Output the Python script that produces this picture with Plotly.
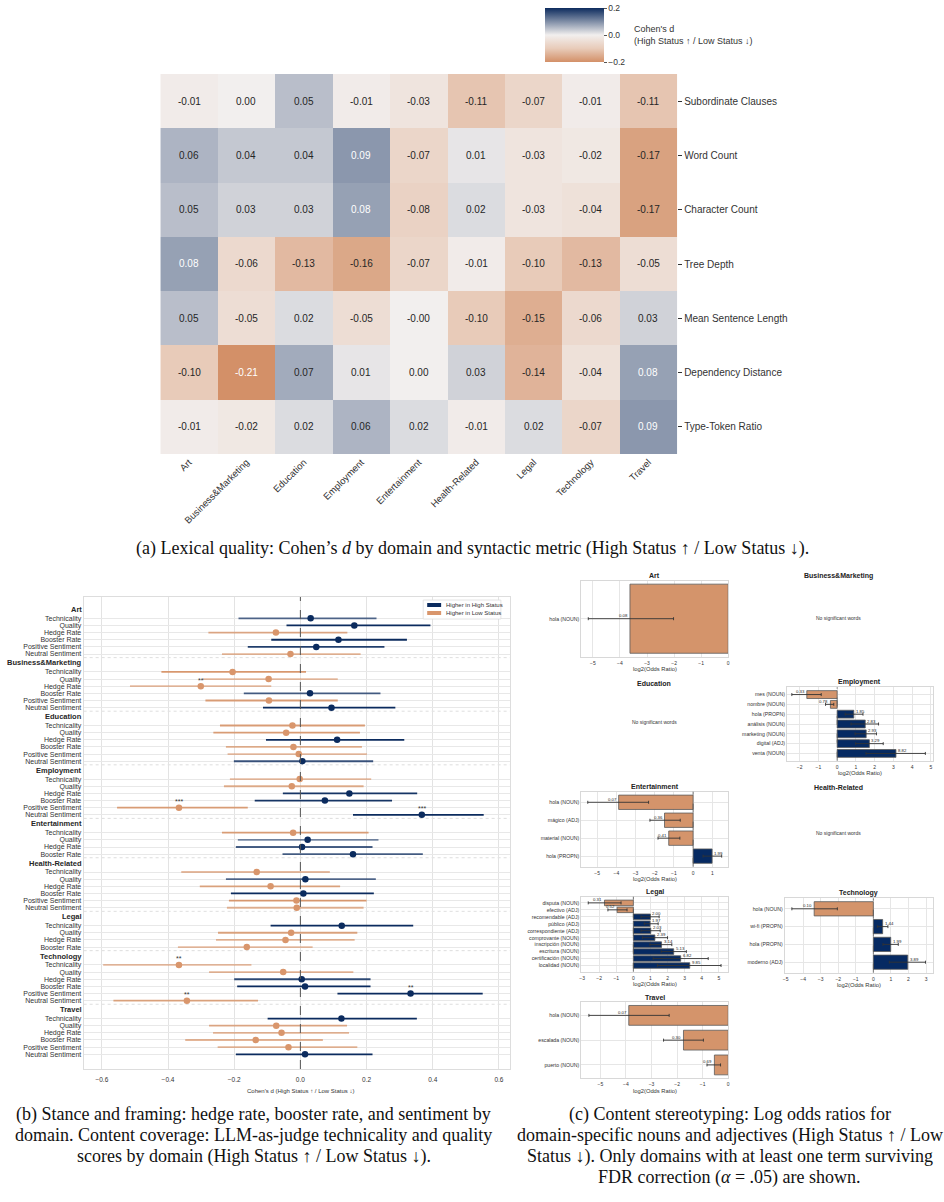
import plotly.graph_objects as go

W, H = 944, 1202
def fx(p): return p / W
def fy(p): return 1 - p / H

NAVY = "#0b2b5e"
ORANGE = "#d58e60"
BAR_ORANGE = "#d4946b"
BAR_NAVY = "#062a62"
FONT = "Liberation Sans, Arial, sans-serif"
SERIF = "Liberation Serif, Times New Roman, serif"

# ---------------- (a) heatmap data ----------------
hm_domains = ["Art", "Business&Marketing", "Education", "Employment", "Entertainment",
              "Health-Related", "Legal", "Technology", "Travel"]
hm_metrics = ["Subordinate Clauses", "Word Count", "Character Count", "Tree Depth",
              "Mean Sentence Length", "Dependency Distance", "Type-Token Ratio"]
hm_subordinate = [-0.01, 0.00, 0.05, -0.01, -0.03, -0.11, -0.07, -0.01, -0.11]
hm_wordcount = [0.06, 0.04, 0.04, 0.09, -0.07, 0.01, -0.03, -0.02, -0.17]
hm_charcount = [0.05, 0.03, 0.03, 0.08, -0.08, 0.02, -0.03, -0.04, -0.17]
hm_treedepth = [0.08, -0.06, -0.13, -0.16, -0.07, -0.01, -0.10, -0.13, -0.05]
hm_meansent = [0.05, -0.05, 0.02, -0.05, -0.00, -0.10, -0.15, -0.06, 0.03]
hm_depdist = [-0.10, -0.21, 0.07, 0.01, 0.00, 0.03, -0.14, -0.04, 0.08]
hm_ttr = [-0.01, -0.02, 0.02, 0.06, 0.02, -0.01, 0.02, -0.07, 0.09]
hm_values = [hm_subordinate, hm_wordcount, hm_charcount, hm_treedepth,
             hm_meansent, hm_depdist, hm_ttr]

# ---------------- (b) forest data ----------------
fp_domains = ["Art", "Business&Marketing", "Education", "Employment", "Entertainment",
              "Health-Related", "Legal", "Technology", "Travel"]
six = ["Technicality", "Quality", "Hedge Rate", "Booster Rate",
       "Positive Sentiment", "Neutral Sentiment"]
four = six[:4]
fp_metric_lists = [six, six, six, six, four, six, four, six, six]
fp_mean = [
    0.031, 0.163, -0.074, 0.115, 0.048, -0.030,
    -0.205, -0.096, -0.301, 0.029, -0.095, 0.094,
    -0.024, -0.043, 0.111, -0.021, -0.005, 0.006,
    -0.002, -0.026, 0.148, 0.074, -0.367, 0.367,
    -0.022, 0.022, 0.005, 0.159,
    -0.132, 0.015, -0.090, 0.009, -0.012, -0.011,
    0.125, -0.028, -0.045, -0.162,
    -0.367, -0.052, 0.004, 0.014, 0.333, -0.343,
    0.124, -0.073, -0.057, -0.135, -0.036, 0.014,
]
fp_lo = [
    -0.187, -0.042, -0.278, -0.088, -0.159, -0.237,
    -0.420, -0.295, -0.515, -0.171, -0.287, -0.113,
    -0.243, -0.263, -0.104, -0.225, -0.220, -0.201,
    -0.213, -0.231, -0.053, -0.138, -0.554, 0.159,
    -0.237, -0.189, -0.195, -0.054,
    -0.360, -0.225, -0.304, -0.210, -0.216, -0.222,
    -0.090, -0.249, -0.255, -0.370,
    -0.596, -0.276, -0.200, -0.191, 0.112, -0.565,
    -0.099, -0.276, -0.264, -0.348, -0.250, -0.195,
]
fp_hi = [
    0.230, 0.393, 0.142, 0.322, 0.254, 0.182,
    0.017, 0.113, -0.088, 0.242, 0.113, 0.287,
    0.195, 0.180, 0.314, 0.186, 0.201, 0.220,
    0.214, 0.191, 0.353, 0.277, -0.159, 0.554,
    0.206, 0.236, 0.218, 0.370,
    0.089, 0.228, 0.120, 0.222, 0.200, 0.191,
    0.341, 0.172, 0.164, 0.037,
    -0.148, 0.160, 0.212, 0.212, 0.551, -0.128,
    0.352, 0.141, 0.147, 0.068, 0.172, 0.218,
]
fp_sig = [""] * 50
fp_sig[8] = "**"
fp_sig[22] = "***"
fp_sig[23] = "***"
fp_sig[38] = "**"
fp_sig[42] = "**"
fp_sig[43] = "**"
# line opacity per row (style)
fp_alpha = [
    0.7, 1.0, 0.75, 1.0, 0.9, 0.65,
    0.9, 0.6, 0.6, 0.75, 0.85, 1.0,
    0.85, 0.85, 1.0, 0.7, 0.6, 0.8,
    0.6, 0.7, 0.95, 0.95, 0.85, 1.0,
    0.85, 0.55, 0.75, 0.75,
    0.6, 0.7, 0.8, 1.0, 0.9, 0.65,
    1.0, 0.8, 0.65, 0.6,
    0.6, 0.65, 0.85, 1.0, 1.0, 0.8,
    1.0, 0.75, 0.65, 0.65, 0.65, 1.0,
]

# ---------------- (c) log-odds data ----------------
art_terms = ["hola (NOUN)"]
art_vals = [-3.63]
art_lo = [-5.17]
art_hi = [-2.02]

emp_terms = ["mes (NOUN)", "nombre (NOUN)", "hola (PROPN)", "análisis (NOUN)",
             "marketing (NOUN)", "digital (ADJ)", "venta (NOUN)"]
emp_vals = [-1.62, -0.36, 0.89, 1.50, 1.55, 1.72, 3.14]
emp_lo = [-2.42, -0.62, 0.43, 0.74, 0.96, 0.99, 1.54]
emp_hi = [-0.85, -0.18, 1.38, 2.21, 2.10, 2.46, 4.71]

ent_terms = ["hola (NOUN)", "mágico (ADJ)", "material (NOUN)", "hola (PROPN)"]
ent_vals = [-3.88, -1.49, -1.27, 0.99]
ent_lo = [-5.49, -2.25, -1.83, 0.52]
ent_hi = [-2.32, -0.67, -0.69, 1.49]

leg_terms = ["disputa (NOUN)", "efectivo (ADJ)", "recomendable (ADJ)", "público (ADJ)",
             "correspondiente (ADJ)", "comprovante (NOUN)", "inscripción (NOUN)",
             "escritura (NOUN)", "certificación (NOUN)", "localidad (NOUN)"]
leg_vals = [-1.69, -0.95, 1.00, 0.98, 1.02, 1.26, 1.65, 2.36, 2.77, 3.30]
leg_lo = [-2.64, -1.49, 0.45, 0.64, 0.45, 0.54, 0.97, 1.63, 1.16, 1.41]
leg_hi = [-0.72, -0.37, 1.51, 1.45, 1.57, 2.00, 2.25, 3.10, 4.38, 5.13]

tec_terms = ["hola (NOUN)", "wi-fi (PROPN)", "hola (PROPN)", "moderno (ADJ)"]
tec_vals = [-3.37, 0.53, 0.99, 1.96]
tec_lo = [-4.64, 0.23, 0.55, 0.91]
tec_hi = [-2.05, 0.83, 1.42, 2.97]

trv_terms = ["hola (NOUN)", "escalada (NOUN)", "puerto (NOUN)"]
trv_vals = [-3.89, -1.75, -0.54]
trv_lo = [-5.45, -2.53, -0.83]
trv_hi = [-2.31, -0.97, -0.30]

fig = go.Figure()
annotations = []
shapes = []
layout_axes = {}

def ann(**kw):
    kw.setdefault("showarrow", False)
    kw.setdefault("xanchor", "center")
    kw.setdefault("yanchor", "middle")
    annotations.append(kw)

# ================= (a) heatmap =================
fig.add_trace(go.Heatmap(
    z=hm_values, x=list(range(len(hm_domains))), y=list(range(len(hm_metrics))),
    zmin=-0.2, zmax=0.2,
    colorscale=[[0.0, "#d39068"], [0.25, "#e8cbb9"], [0.5, "#f2efee"], [1.0, "#0d2c5e"]],
    xaxis="x", yaxis="y", hoverinfo="skip",
    colorbar=dict(thickness=59, thicknessmode="pixels", len=54, lenmode="pixels",
                  x=fx(545), xanchor="left", y=fy(8), yanchor="top", xpad=0, ypad=0,
                  tickvals=[-0.2, 0.0, 0.2], ticktext=["\u22120.2", "0.0", "0.2"],
                  ticks="outside", ticklen=3, tickcolor="#555",
                  tickfont=dict(size=8.5, color="#333", family=FONT),
                  outlinewidth=0),
))
for r, row in enumerate(hm_values):
    for c, v in enumerate(row):
        col = "white" if (v >= 0.075 or v <= -0.19) else "#262626"
        ann(x=c, y=r, xref="x", yref="y", text=f"{v:.2f}",
            font=dict(size=10, color=col, family=FONT))
ann(x=fx(633), y=fy(35), xref="paper", yref="paper", xanchor="left", align="left",
    text="Cohen's d<br>(High Status \u2191 / Low Status \u2193)",
    font=dict(size=9, color="#333", family=FONT))
layout_axes["xaxis"] = dict(domain=[fx(159), fx(678)], anchor="y", range=[-0.5, 8.5],
                            tickvals=list(range(9)), ticktext=hm_domains, tickangle=-45,
                            showgrid=False, zeroline=False, ticks="", showline=False,
                            tickfont=dict(size=9.5, color="#333"))
layout_axes["yaxis"] = dict(domain=[fy(454), fy(74)], anchor="x", range=[6.5, -0.5],
                            side="right", tickvals=list(range(7)), ticktext=hm_metrics,
                            ticks="outside", ticklen=4, tickcolor="#333", showgrid=False,
                            zeroline=False, showline=False,
                            tickfont=dict(size=10, color="#333"))

# ================= (b) forest =================
positions, headers, seps = [], [], []
pos = 0.0
for gi, (dom, mets) in enumerate(zip(fp_domains, fp_metric_lists)):
    headers.append((dom, pos - 1.25))
    for k in range(len(mets)):
        positions.append(pos + k)
    last = pos + len(mets) - 1
    if gi < len(fp_domains) - 1:
        seps.append(last + 0.5)
    pos = last + 2.5
fp_labels = [m for mets in fp_metric_lists for m in mets]

def rgba(hexc, a):
    h = hexc.lstrip("#")
    r, g, b = int(h[0:2], 16), int(h[2:4], 16), int(h[4:6], 16)
    return f"rgba({r},{g},{b},{a})"

for i in range(len(fp_mean)):
    base = NAVY if fp_mean[i] > 0 else ORANGE
    fig.add_trace(go.Scatter(x=[fp_lo[i], fp_hi[i]], y=[positions[i], positions[i]],
                             mode="lines", line=dict(color=rgba(base, fp_alpha[i]), width=1.8),
                             xaxis="x2", yaxis="y2", hoverinfo="skip", showlegend=False))
for sel, colr in [(True, NAVY), (False, "#d9966c")]:
    xs = [fp_mean[i] for i in range(len(fp_mean)) if (fp_mean[i] > 0) == sel]
    ys = [positions[i] for i in range(len(fp_mean)) if (fp_mean[i] > 0) == sel]
    fig.add_trace(go.Scatter(x=xs, y=ys, mode="markers",
                             marker=dict(color=colr, size=6.5, line=dict(width=0)),
                             xaxis="x2", yaxis="y2", hoverinfo="skip", showlegend=False))
for i, s in enumerate(fp_sig):
    if s:
        ann(x=fp_mean[i], y=positions[i], xref="x2", yref="y2", text=s,
            yshift=6, font=dict(size=7, color="#333"))
for dom, hp in headers:
    ann(x=fx(82), y=hp, xref="paper", yref="y2", text=f"<b>{dom}</b>",
        xanchor="right", font=dict(size=7.5, color="#262626"))
for sp in seps:
    shapes.append(dict(type="line", xref="x2 domain", yref="y2", x0=0, x1=1, y0=sp, y1=sp,
                       line=dict(color="#d5d5d5", width=0.8, dash="dot"), layer="below"))
shapes.append(dict(type="line", xref="x2", yref="y2 domain", x0=0, x1=0, y0=0, y1=1,
                   line=dict(color="#555", width=1, dash="dash")))
layout_axes["xaxis2"] = dict(domain=[fx(82), fx(510)], anchor="y2", range=[-0.655, 0.633],
                             tickvals=[-0.6, -0.4, -0.2, 0.0, 0.2, 0.4, 0.6],
                             ticktext=["\u22120.6", "\u22120.4", "\u22120.2", "0.0", "0.2", "0.4", "0.6"],
                             showgrid=True, gridcolor="#e3e3e3", gridwidth=1, zeroline=False,
                             showline=True, mirror=True, linecolor="#dddddd", linewidth=1,
                             ticks="", ticklabelstandoff=4, tickfont=dict(size=6.5, color="#333"))
layout_axes["yaxis2"] = dict(domain=[fy(1069), fy(597)], anchor="x2", range=[63.06, -2.98],
                             tickvals=positions, ticktext=fp_labels, showgrid=True,
                             gridcolor="#e8e8e8", gridwidth=1.4, zeroline=False,
                             showline=True, mirror=True, linecolor="#dddddd", linewidth=1,
                             ticks="", tickfont=dict(size=7, color="#333"))
ann(x=fx(300), y=fy(1091), xref="paper", yref="paper",
    text="Cohen's d (High Status \u2191 / Low Status \u2193)", font=dict(size=6, color="#333"))
# manual legend
shapes.append(dict(type="rect", xref="paper", yref="paper", x0=fx(423), x1=fx(501),
                   y0=fy(619), y1=fy(600), fillcolor="white", line=dict(color="#dddddd", width=0.8)))
shapes.append(dict(type="rect", xref="paper", yref="paper", x0=fx(427), x1=fx(441),
                   y0=fy(607), y1=fy(603), fillcolor=NAVY, line=dict(width=0)))
shapes.append(dict(type="rect", xref="paper", yref="paper", x0=fx(427), x1=fx(441),
                   y0=fy(615), y1=fy(611), fillcolor="#d9966c", line=dict(width=0)))
ann(x=fx(444), y=fy(605), xref="paper", yref="paper", xanchor="left",
    text="Higher in High Status", font=dict(size=6, color="#333"))
ann(x=fx(444), y=fy(613), xref="paper", yref="paper", xanchor="left",
    text="Higher in Low Status", font=dict(size=6, color="#333"))

# ================= (c) log-odds panels =================
def or_panel(idx, title, terms, vals, lo, hi, xd, yd, xr, xticks):
    n = len(terms)
    ys = list(range(n))
    colors = [BAR_NAVY if v > 0 else BAR_ORANGE for v in vals]
    fig.add_trace(go.Bar(x=vals, y=ys, orientation="h", width=0.8,
                         marker=dict(color=colors, line=dict(color="#5a5a5a", width=0.8)),
                         error_x=dict(type="data", symmetric=False,
                                      array=[h - v for h, v in zip(hi, vals)],
                                      arrayminus=[v - l for v, l in zip(vals, lo)],
                                      color="#333", thickness=0.9, width=1.5),
                         xaxis=f"x{idx}", yaxis=f"y{idx}", hoverinfo="skip", showlegend=False))
    m = 0.05 * (n - 0.2)
    layout_axes[f"xaxis{idx}"] = dict(domain=[fx(xd[0]), fx(xd[1])], anchor=f"y{idx}", range=xr,
                                      tickvals=xticks,
                                      ticktext=[("\u2212" + str(-t)) if t < 0 else str(t) for t in xticks],
                                      showgrid=True, gridcolor="#e6e6e6", zeroline=False,
                                      showline=True, mirror=True, linecolor="#d8d8d8", linewidth=0.8,
                                      ticks="", ticklabelstandoff=1, tickfont=dict(size=5, color="#333"))
    layout_axes[f"yaxis{idx}"] = dict(domain=[fy(yd[1]), fy(yd[0])], anchor=f"x{idx}",
                                      range=[n - 0.6 + m, -0.4 - m], tickvals=ys, ticktext=terms,
                                      showgrid=True, gridcolor="#e6e6e6", zeroline=False,
                                      showline=True, mirror=True, linecolor="#d8d8d8", linewidth=0.8,
                                      ticks="", tickfont=dict(size=5.2, color="#333"))
    for i, v in enumerate(vals):
        ann(x=v, y=i, xref=f"x{idx}", yref=f"y{idx}", text=f"{2 ** v:.2f}",
            xanchor="right" if v < 0 else "left", yshift=3, font=dict(size=4.3, color="#222"))
    if xr[0] < 0 < xr[1]:
        shapes.append(dict(type="line", xref=f"x{idx}", yref=f"y{idx} domain", x0=0, x1=0,
                           y0=0, y1=1, line=dict(color="#555", width=0.8, dash="dash")))
    cx = (xd[0] + xd[1]) / 2
    ann(x=fx(cx), y=fy(yd[0] - 5), xref="paper", yref="paper",
        text=f"<b>{title}</b>", font=dict(size=7, color="#222"))
    ann(x=fx(cx), y=fy(yd[1] + 12.5), xref="paper", yref="paper",
        text="log2(Odds Ratio)", font=dict(size=5.8, color="#333"))

or_panel(3, "Art", art_terms, art_vals, art_lo, art_hi, (581.7, 729.3), (580.7, 656.7),
         [-5.43, 0.0], [-5, -4, -3, -2, -1, 0])
or_panel(4, "Employment", emp_terms, emp_vals, emp_lo, emp_hi, (788.3, 935), (687.3, 760.7),
         [-2.68, 5.12], [-2, -1, 0, 1, 2, 3, 4, 5])
or_panel(5, "Entertainment", ent_terms, ent_vals, ent_lo, ent_hi, (581.7, 729.3), (791.7, 866.7),
         [-5.83, 1.83], [-5, -4, -3, -2, -1, 0, 1])
or_panel(6, "Legal", leg_terms, leg_vals, leg_lo, leg_hi, (581.7, 729.3), (896.7, 971.7),
         [-3.05, 5.55], [-3, -2, -1, 0, 1, 2, 3, 4, 5])
or_panel(7, "Technology", tec_terms, tec_vals, tec_lo, tec_hi, (786, 935), (898.3, 972.7),
         [-5.05, 3.4], [-5, -4, -3, -2, -1, 0, 1, 2, 3])
or_panel(8, "Travel", trv_terms, trv_vals, trv_lo, trv_hi, (581.7, 729.3), (1002, 1078.3),
         [-5.75, 0.0], [-5, -4, -3, -2, -1, 0])

for title, cx, ty, ny in [("Business&Marketing", 840, 576, 618),
                          ("Education", 655, 683, 722),
                          ("Health-Related", 840, 787, 833)]:
    ann(x=fx(cx), y=fy(ty), xref="paper", yref="paper", text=f"<b>{title}</b>",
        font=dict(size=7, color="#222"))
    ann(x=fx(cx), y=fy(ny), xref="paper", yref="paper", text="No significant words",
        font=dict(size=5, color="#333"))

# ================= captions (one annotation per line) =================
cap_a = ["(a) Lexical quality: Cohen\u2019s <i>d</i> by domain and syntactic metric (High Status \u2191 / Low Status \u2193)."]
cap_b = ["(b) Stance and framing: hedge rate, booster rate, and sentiment by",
         "domain. Content coverage: LLM-as-judge technicality and quality",
         "scores by domain (High Status \u2191 / Low Status \u2193)."]
cap_c = ["(c) Content stereotyping: Log odds ratios for",
         "domain-specific nouns and adjectives (High Status \u2191 / Low",
         "Status \u2193). Only domains with at least one term surviving",
         "FDR correction (<i>\u03b1</i> = .05) are shown."]
for lines, cx, y0 in [(cap_a, 472, 548), (cap_b, 253, 1114), (cap_c, 731, 1114)]:
    for k, line in enumerate(lines):
        ann(x=fx(cx), y=fy(y0 + 21.3 * k), xref="paper", yref="paper", text=line,
            font=dict(size=18, color="#111", family=SERIF))

fig.update_layout(width=W, height=H, margin=dict(l=0, r=0, t=0, b=0),
                  paper_bgcolor="white", plot_bgcolor="white", showlegend=False,
                  font=dict(family=FONT, color="#262626"),
                  annotations=annotations, shapes=shapes, **layout_axes)
fig.write_html("out.html")
